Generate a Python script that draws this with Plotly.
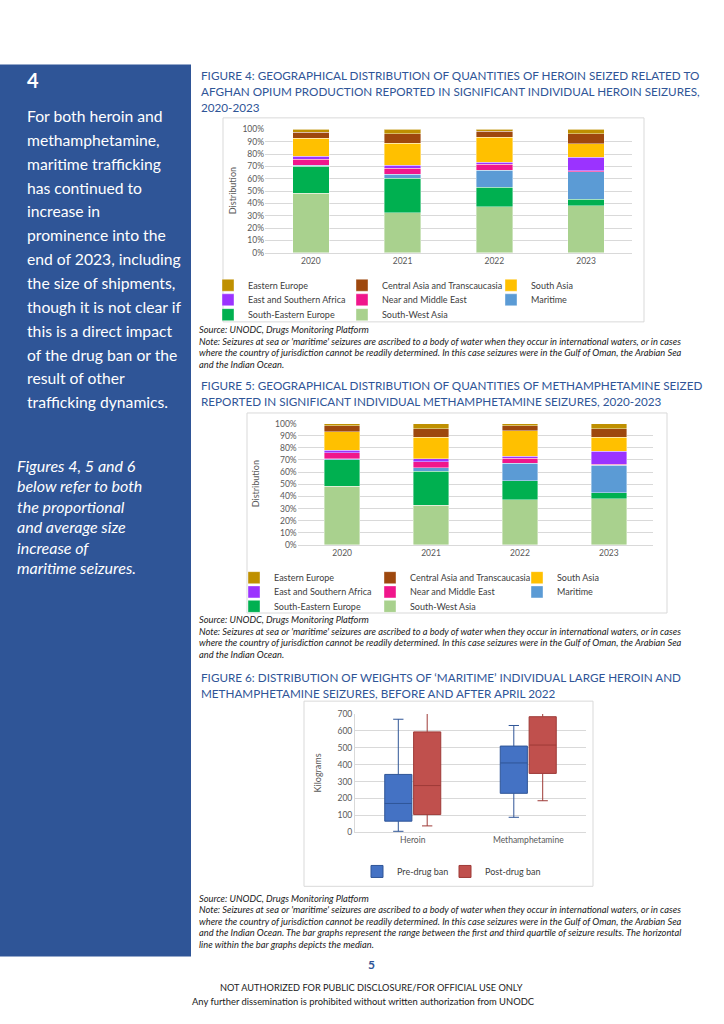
import plotly.graph_objects as go

W, H = 724, 1024
def X(px): return px / W
def Y(py): return 1 - py / H

FONT = "Lato"
BLUE = "#2F5597"
TICK = "#595959"
GRID = "#D9D9D9"

# ---------------- data ----------------
years = ["2020", "2021", "2022", "2023"]
region_names = ["South-West Asia", "South-Eastern Europe", "Maritime", "Near and Middle East",
                "East and Southern Africa", "South Asia", "Central Asia and Transcaucasia", "Eastern Europe"]
region_colors = ["#A9D18E", "#00B050", "#5B9BD5", "#F0168C", "#9B33FF", "#FFC000", "#9E480E", "#BF9000"]
# legend grid position (row, column) of each region, as in the Excel legend
legend_cell = [(2, 1), (2, 0), (1, 2), (1, 1), (1, 0), (0, 2), (0, 1), (0, 0)]

heroin_swa = [48.4, 32.4, 37.2, 38.2]
heroin_see = [21.9, 28.0, 16.0, 5.4]
heroin_mar = [0.8, 3.2, 13.9, 22.2]
heroin_nme = [4.6, 4.8, 4.6, 0.8]
heroin_esa = [2.6, 2.5, 1.6, 10.9]
heroin_sa = [14.7, 18.1, 20.6, 11.0]
heroin_cat = [4.9, 7.5, 4.5, 8.0]
heroin_ee = [2.1, 3.5, 1.6, 3.5]

meth_swa = [48.4, 32.6, 37.2, 38.0]
meth_see = [21.7, 28.0, 15.8, 4.9]
meth_mar = [0.8, 3.0, 14.4, 22.6]
meth_nme = [4.9, 4.9, 4.1, 0.8]
meth_esa = [2.2, 2.4, 1.6, 11.1]
meth_sa = [15.2, 17.7, 20.9, 11.2]
meth_cat = [4.9, 7.3, 4.1, 7.3]
meth_ee = [1.9, 4.1, 1.9, 4.1]

pct_ticks = [0, 10, 20, 30, 40, 50, 60, 70, 80, 90, 100]
pct_labels = ["0%", "10%", "20%", "30%", "40%", "50%", "60%", "70%", "80%", "90%", "100%"]

box_cats = ["Heroin", "Methamphetamine"]
pre_low = [5, 88]
pre_q1 = [65, 230]
pre_med = [170, 410]
pre_q3 = [342, 510]
pre_high = [669, 632]
post_low = [37, 186]
post_q1 = [104, 348]
post_med = [276, 516]
post_q3 = [594, 684]
post_high = [760, 760]
kg_ticks = [0, 100, 200, 300, 400, 500, 600, 700]

side_lines = ["For both heroin and", "methamphetamine,", "maritime trafficking", "has continued to",
              "increase in", "prominence into the", "end of 2023, including", "the size of shipments,",
              "though it is not clear if", "this is a direct impact", "of the drug ban or the",
              "result of other", "trafficking dynamics."]
side_italic = ["Figures 4, 5 and 6", "below refer to both", "the proportional", "and average size",
               "increase of", "maritime seizures."]

fig4_title = ["FIGURE 4: GEOGRAPHICAL DISTRIBUTION OF QUANTITIES OF HEROIN SEIZED RELATED TO",
              "AFGHAN OPIUM PRODUCTION REPORTED IN SIGNIFICANT INDIVIDUAL HEROIN SEIZURES,",
              "2020-2023"]
fig5_title = ["FIGURE 5: GEOGRAPHICAL DISTRIBUTION OF QUANTITIES OF METHAMPHETAMINE SEIZED",
              "REPORTED IN SIGNIFICANT INDIVIDUAL METHAMPHETAMINE SEIZURES, 2020-2023"]
fig6_title = ["FIGURE 6: DISTRIBUTION OF WEIGHTS OF \u2018MARITIME\u2019 INDIVIDUAL LARGE HEROIN AND",
              "METHAMPHETAMINE SEIZURES, BEFORE AND AFTER APRIL 2022"]
note_lines = ["Source: UNODC, Drugs Monitoring Platform",
              "Note: Seizures at sea or 'maritime' seizures are ascribed to a body of water when they occur in international waters, or in cases",
              "where the country of jurisdiction cannot be readily determined. In this case seizures were in the Gulf of Oman, the Arabian Sea",
              "and the Indian Ocean."]
note6_lines = ["Source: UNODC, Drugs Monitoring Platform",
               "Note: Seizures at sea or 'maritime' seizures are ascribed to a body of water when they occur in international waters, or in cases",
               "where the country of jurisdiction cannot be readily determined. In this case seizures were in the Gulf of Oman, the Arabian Sea",
               "and the Indian Ocean. The bar graphs represent the range between the first and third quartile of seizure results. The horizontal",
               "line within the bar graphs depicts the median."]
footer_lines = ["NOT AUTHORIZED FOR PUBLIC DISCLOSURE/FOR OFFICIAL USE ONLY",
                "Any further dissemination is prohibited without written authorization from UNODC"]

heroin_series = [heroin_swa, heroin_see, heroin_mar, heroin_nme, heroin_esa, heroin_sa, heroin_cat, heroin_ee]
meth_series = [meth_swa, meth_see, meth_mar, meth_nme, meth_esa, meth_sa, meth_cat, meth_ee]

fig = go.Figure()
legends = {}
leg_font = dict(family=FONT, size=9, color="#404040")
_leg_count = [0]

def new_legend(x, y):
    _leg_count[0] += 1
    key = "legend" if _leg_count[0] == 1 else "legend%d" % _leg_count[0]
    legends[key] = dict(x=X(x), y=Y(y), xanchor="left", yanchor="middle", orientation="h",
                        font=leg_font, bgcolor="rgba(0,0,0,0)", borderwidth=0,
                        itemclick=False, itemdoubleclick=False)
    return key

# legend layout (left x of legend box per column, centre y per row)
leg4_cols = [208, 342, 491]
leg4_rows = [283, 297.7, 312.7]
leg5_cols = [234, 370, 517]
leg5_rows = [578.3, 592.7, 607.3]

# ---------------- stacked bars ----------------
for i, name in enumerate(region_names):
    r, c = legend_cell[i]
    fig.add_trace(go.Bar(x=years, y=heroin_series[i], name=name, marker_color=region_colors[i],
                         marker_line=dict(color="white", width=0.4),
                         xaxis="x", yaxis="y", legend=new_legend(leg4_cols[c], leg4_rows[r])))
for i, name in enumerate(region_names):
    r, c = legend_cell[i]
    fig.add_trace(go.Bar(x=years, y=meth_series[i], name=name, marker_color=region_colors[i],
                         marker_line=dict(color="white", width=0.4),
                         xaxis="x2", yaxis="y2", legend=new_legend(leg5_cols[c], leg5_rows[r])))

# ---------------- box plot ----------------
fig.add_trace(go.Box(x=box_cats, q1=pre_q1, median=pre_med, q3=pre_q3,
                     lowerfence=pre_low, upperfence=pre_high, name="Pre-drug ban",
                     fillcolor="#4472C4", line=dict(color="#2F5597", width=1),
                     whiskerwidth=0.38, xaxis="x3", yaxis="y3", legend=new_legend(357, 875),
                     hoverinfo="skip"))
fig.add_trace(go.Box(x=box_cats, q1=post_q1, median=post_med, q3=post_q3,
                     lowerfence=post_low, upperfence=post_high, name="Post-drug ban",
                     fillcolor="#C0504D", line=dict(color="#9E3A37", width=1),
                     whiskerwidth=0.38, xaxis="x3", yaxis="y3", legend=new_legend(445, 875),
                     hoverinfo="skip"))

tickfont = dict(family=FONT, size=8.5, color=TICK)

def xa(l, r, anchor):
    return dict(domain=[X(l), X(r)], type="category", showgrid=False, showline=True,
                linecolor=GRID, linewidth=1, ticks="", tickfont=tickfont, fixedrange=True,
                anchor=anchor)

def ya(t, b, anchor, vals, labels, rng):
    return dict(domain=[Y(b), Y(t)], range=rng, tickmode="array", tickvals=vals, ticktext=labels,
                showgrid=True, gridcolor=GRID, gridwidth=1, zeroline=False, showline=False,
                ticks="", tickfont=tickfont, anchor=anchor, fixedrange=True)

fig.update_layout(
    width=W, height=H, margin=dict(l=0, r=0, t=0, b=0, pad=0),
    paper_bgcolor="white", plot_bgcolor="white",
    barmode="stack", bargap=0.6,
    boxmode="group", boxgap=0.5, boxgroupgap=0.06,
    font=dict(family=FONT, color="#262626"),
    xaxis=xa(265, 632, "y"),
    yaxis=ya(125.7, 250.3, "x", pct_ticks, pct_labels, [0, 100]),
    xaxis2=xa(297.7, 653.3, "y2"),
    yaxis2=ya(422.7, 545.3, "x2", pct_ticks, pct_labels, [0, 100]),
    xaxis3=xa(355, 586, "y3"),
    yaxis3=dict(ya(716, 835.3, "x3", kg_ticks, [str(v) for v in kg_ticks], [0, 700]),
                showline=True, linecolor=GRID),
    showlegend=True,
    **legends,
)

shapes = []
annotations = []

# sidebar
shapes.append(dict(type="rect", xref="paper", yref="paper", x0=X(0), x1=X(191), y0=Y(961), y1=Y(60),
                   fillcolor=BLUE, line=dict(width=0), layer="below"))
# chart frames
for (l, t, r, b) in [(223, 114, 644, 320), (247, 412, 667, 614), (304, 703, 593, 890)]:
    shapes.append(dict(type="rect", xref="paper", yref="paper", x0=X(l), x1=X(r), y0=Y(b), y1=Y(t),
                       fillcolor="rgba(0,0,0,0)", line=dict(color=GRID, width=1), layer="below"))

def text(x, y, s, size, color="#262626", anchor="left", bold=False, italic=False, angle=0):
    annotations.append(dict(x=X(x), y=Y(y), xref="paper", yref="paper", text=s, showarrow=False,
                            xanchor=anchor, yanchor="middle", textangle=angle,
                            font=dict(family=FONT, size=size, color=color,
                                      weight="bold" if bold else "normal",
                                      style="italic" if italic else "normal")))

# sidebar text
text(25, 76, "4", 20, "white", bold=True)
for i, s in enumerate(side_lines):
    text(25, 112 + 24.1 * i, s, 15.7, "white")
for i, s in enumerate(side_italic):
    text(15, 465 + 20.6 * i, s, 16, "white", italic=True)

# titles
TS = 11.7
for i, s in enumerate(fig4_title):
    text(199, 71 + 16 * i, s, TS, BLUE)
for i, s in enumerate(fig5_title):
    text(199, 384 + 16 * i, s, TS, BLUE)
for i, s in enumerate(fig6_title):
    text(199, 679 + 16 * i, s, TS, BLUE)

# notes
NS = 9.3
for i, s in enumerate(note_lines):
    text(197, 328 + 11.6 * i, s, NS, "#1a1a1a", italic=True)
for i, s in enumerate(note_lines):
    text(197, 621 + 11.6 * i, s, NS, "#1a1a1a", italic=True)
for i, s in enumerate(note6_lines):
    text(197, 902 + 11.6 * i, s, NS, "#1a1a1a", italic=True)

# axis titles
text(232, 188, "Distribution", 9, TICK, anchor="center", angle=-90)
text(255, 484, "Distribution", 9, TICK, anchor="center", angle=-90)
text(317, 776, "Kilograms", 9, TICK, anchor="center", angle=-90)

# page number + footer
text(371, 969, "5", 12, BLUE, anchor="center", bold=True)
text(371, 992, footer_lines[0], 9.2, "#1a1a1a", anchor="center")
text(363, 1006, footer_lines[1], 9.4, "#1a1a1a", anchor="center")

fig.update_layout(shapes=shapes, annotations=annotations)
fig.write_html("out.html", config={"displayModeBar": False},
               post_script="document.body.style.margin='0';document.body.style.padding='0';"
                           "document.body.style.overflow='hidden';")
